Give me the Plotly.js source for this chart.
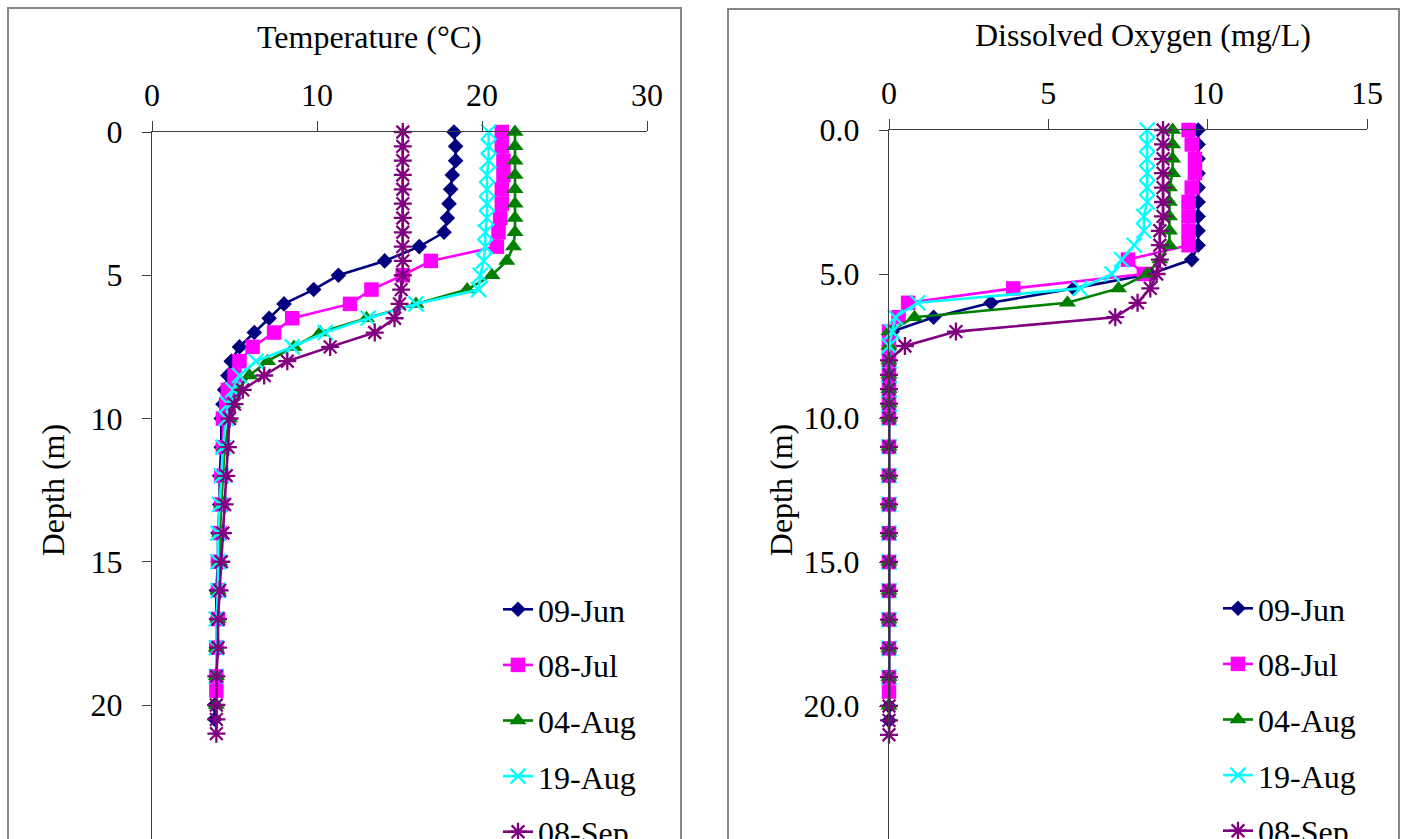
<!DOCTYPE html>
<html><head><meta charset="utf-8">
<script src="https://cdn.plot.ly/plotly-3.0.1.min.js"></script>
<style>
html,body{margin:0;padding:0;overflow:hidden;background:#fff;width:1405px;height:839px}
#chart{width:1405px;height:870px}
</style>
</head><body><div id="chart"></div>
<script>
// ---- series names ----
const dates = ["09-Jun", "08-Jul", "04-Aug", "19-Aug", "08-Sep"];

// ---- depths (m) for each sampling date ----
const depthJun09 = [0,0.5,1,1.5,2,2.5,3,3.5,4,4.5,5,5.5,6,6.5,7,7.5,8,8.5,9,9.5,10,11,12,13,14,15,16,17,18,19,20,20.5];
const depthJul08 = [0,0.5,1,1.5,2,2.5,3,3.5,4,4.5,5,5.5,6,6.5,7,7.5,8,8.5,9,9.5,10,11,12,13,14,15,16,17,18,19,19.5];
const depthAug04 = [0,0.5,1,1.5,2,2.5,3,3.5,4,4.5,5,5.5,6,6.5,7,7.5,8,8.5,9,9.5,10,11,12,13,14,15,16,17,18,19,20];
const depthAug19 = [0,0.5,1,1.5,2,2.5,3,3.5,4,4.5,5,5.5,6,6.5,7,7.5,8,8.5,9,9.5,10,11,12,13,14,15,16,17,18,19];
const depthSep08 = [0,0.5,1,1.5,2,2.5,3,3.5,4,4.5,5,5.5,6,6.5,7,7.5,8,8.5,9,9.5,10,11,12,13,14,15,16,17,18,19,20,20.5,21];

// ---- temperature (°C) ----
const tempJun09 = [18.3,18.4,18.4,18.2,18.1,18.0,17.9,17.7,16.2,14.1,11.3,9.8,8.0,7.1,6.2,5.3,4.8,4.6,4.4,4.3,4.2,4.2,4.1,4.1,4.0,4.0,3.9,3.9,3.9,3.9,3.8,3.8];
const tempJul08 = [21.2,21.2,21.3,21.3,21.2,21.2,21.1,21.0,20.9,16.9,15.2,13.3,12.0,8.5,7.4,6.1,5.3,5.0,4.6,4.5,4.3,4.3,4.2,4.2,4.1,4.0,4.0,4.0,3.9,3.9,3.9];
const tempAug04 = [22.0,22.0,22.0,22.0,22.0,22.0,22.0,22.0,21.9,21.5,20.6,19.1,16.0,13.0,10.2,8.6,7.0,5.9,5.2,4.9,4.7,4.4,4.3,4.2,4.1,4.1,4.0,4.0,3.9,3.9,3.9];
const tempAug19 = [20.4,20.4,20.4,20.3,20.3,20.3,20.3,20.2,20.2,20.1,19.9,19.8,16.0,13.1,10.5,8.5,6.3,5.3,4.9,4.6,4.5,4.3,4.2,4.1,4.0,4.0,4.0,3.9,3.9,3.9];
const tempSep08 = [15.2,15.2,15.2,15.2,15.2,15.2,15.2,15.2,15.2,15.2,15.2,15.1,15.0,14.7,13.5,10.8,8.2,6.8,5.5,5.0,4.7,4.6,4.5,4.4,4.3,4.2,4.1,4.0,4.0,3.9,3.9,3.9,3.9];

// ---- dissolved oxygen (mg/L) ----
const doJun09 = [9.7,9.7,9.7,9.7,9.7,9.7,9.7,9.7,9.7,9.5,8.2,5.8,3.2,1.4,0.1,0.0,0.0,0.0,0.0,0.0,0.0,0.0,0.0,0.0,0.0,0.0,0.0,0.0,0.0,0.0,0.0,0.0];
const doJul08 = [9.4,9.5,9.6,9.6,9.5,9.4,9.4,9.4,9.4,7.5,8.0,3.9,0.6,0.3,0.0,0.0,0.0,0.0,0.0,0.0,0.0,0.0,0.0,0.0,0.0,0.0,0.0,0.0,0.0,0.0,0.0];
const doAug04 = [8.9,8.9,8.9,8.9,8.8,8.8,8.8,8.8,8.8,8.5,8.1,7.2,5.6,0.8,0.0,0.0,0.0,0.0,0.0,0.0,0.0,0.0,0.0,0.0,0.0,0.0,0.0,0.0,0.0,0.0,0.0];
const doAug19 = [8.1,8.1,8.1,8.1,8.1,8.1,8.0,8.0,7.7,7.3,7.0,6.0,0.9,0.2,0.1,0.0,0.0,0.0,0.0,0.0,0.0,0.0,0.0,0.0,0.0,0.0,0.0,0.0,0.0,0.0];
const doSep08 = [8.6,8.6,8.6,8.6,8.6,8.6,8.6,8.5,8.5,8.5,8.4,8.2,7.8,7.1,2.1,0.5,0.0,0.0,0.0,0.0,0.0,0.0,0.0,0.0,0.0,0.0,0.0,0.0,0.0,0.0,0.0,0.0,0.0];

// ---- axis ticks and titles ----
const tempTicks = [0, 10, 20, 30];
const doTicks = [0, 5, 10, 15];
const depthTicks = [0, 5, 10, 15, 20];
const tempTitle = "Temperature (°C)";
const doTitle = "Dissolved Oxygen (mg/L)";
const depthTitle = "Depth (m)";

// ---- styling ----
const W = 1405, H = 870;
const FONT = "Liberation Serif, 'Times New Roman', serif";
const FS = 32;
const styles = [
  {color: "#000080", symbol: "diamond", size: 12, lw: 2.6},
  {color: "#FF00FF", symbol: "square", size: 14.5, lw: 2.6},
  {color: "#008000", symbol: "triangle-up", size: 15, lw: 2.6},
  {color: "#00FFFF", symbol: "x-thin-open", size: 15, lw: 2.6},
  {color: "#800080", symbol: "asterisk-open", size: 15, lw: 2.6}
];
const tempSeries = [tempJun09, tempJul08, tempAug04, tempAug19, tempSep08];
const doSeries = [doJun09, doJul08, doAug04, doAug19, doSep08];
const depthSeries = [depthJun09, depthJul08, depthAug04, depthAug19, depthSep08];

function mk(i, xs, xa, ya, leg) {
  const s = styles[i];
  const open = s.symbol.indexOf("open") >= 0;
  return {
    type: "scatter", mode: "lines+markers", name: dates[i],
    x: xs, y: depthSeries[i], xaxis: xa, yaxis: ya, legend: leg,
    legendgroup: leg + i, cliponaxis: false,
    line: {color: s.color, width: s.lw},
    marker: {symbol: s.symbol, size: s.size, color: s.color,
             line: {color: s.color, width: open ? 2.3 : 0}}
  };
}
const traces = [];
for (let i = 0; i < 5; i++) traces.push(mk(i, tempSeries[i], "x", "y", "legend"));
for (let i = 0; i < 5; i++) traces.push(mk(i, doSeries[i], "x2", "y2", "legend2"));

const px = p => p / W, py = p => 1 - p / H;
const axFont = {family: FONT, size: FS, color: "#000"};
function xAx(dom, range, ticks, yref) {
  return {domain: dom, range: range, side: "top", anchor: yref, tickvals: ticks,
    showline: true, linecolor: "#404040", linewidth: 1, ticks: "outside", ticklen: 10,
    tickcolor: "#404040", showgrid: false, zeroline: false, tickfont: axFont,
    ticklabelstandoff: 2, fixedrange: true};
}
function yAx(dom, fmt, xref, standoff) {
  return {domain: dom, range: [25, 0], anchor: xref, tickvals: depthTicks, tickformat: fmt,
    showline: true, linecolor: "#404040", linewidth: 1, ticks: "outside", ticklen: 9,
    tickcolor: "#404040", showgrid: false, zeroline: false, tickfont: axFont,
    ticklabelstandoff: 13, fixedrange: true,
    title: {text: depthTitle, font: axFont, standoff: standoff}};
}
const legBase = {font: {family: FONT, size: FS, color: "#000"}, bgcolor: "rgba(0,0,0,0)",
  borderwidth: 0, traceorder: "grouped", tracegroupgap: 11, xanchor: "left", yanchor: "top"};

const layout = {
  width: W, height: H, margin: {l: 0, r: 0, t: 0, b: 0},
  paper_bgcolor: "#fff", plot_bgcolor: "rgba(0,0,0,0)",
  font: {family: FONT, color: "#000"},
  xaxis: xAx([px(152), px(647)], [0, 30], tempTicks, "y"),
  yaxis: yAx([py(848.25), py(132)], "d", "x", 16),
  xaxis2: xAx([px(889), px(1367)], [0, 15], doTicks, "y2"),
  yaxis2: yAx([py(850), py(130)], ".1f", "x2", 1),
  legend: Object.assign({x: px(498), y: py(582)}, legBase),
  legend2: Object.assign({x: px(1218), y: py(581)}, legBase),
  annotations: [
    {text: tempTitle, xref: "paper", yref: "paper", x: px(369), y: py(37),
     xanchor: "center", yanchor: "middle", showarrow: false, font: axFont},
    {text: doTitle, xref: "paper", yref: "paper", x: px(1143), y: py(35),
     xanchor: "center", yanchor: "middle", showarrow: false, font: axFont}
  ],
  shapes: [
    {type: "rect", xref: "paper", yref: "paper", x0: px(8), x1: px(681), y0: -0.05, y1: py(8),
     line: {color: "#868686", width: 2}, fillcolor: "rgba(0,0,0,0)", layer: "below"},
    {type: "rect", xref: "paper", yref: "paper", x0: px(728), x1: px(1399), y0: -0.05, y1: py(9),
     line: {color: "#868686", width: 2}, fillcolor: "rgba(0,0,0,0)", layer: "below"}
  ]
};
Plotly.newPlot("chart", traces, layout, {displayModeBar: false, staticPlot: true});
</script></body></html>
